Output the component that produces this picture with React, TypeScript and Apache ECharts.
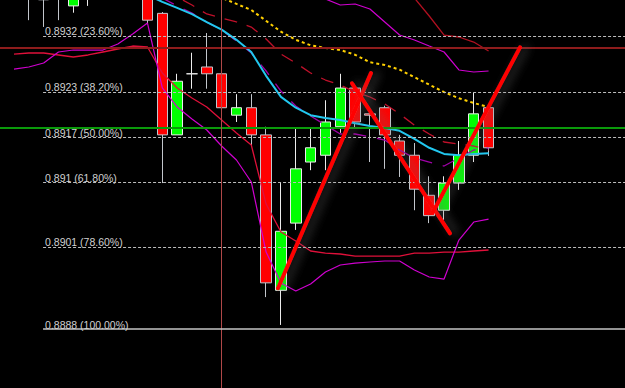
import React, { useEffect, useRef } from "react";
import * as echarts from "echarts";

// ---- data (prices) ----
// candles: [open, close, low, high], index = bar number
const candles: number[][] = [
  [0.8942, 0.89405, 0.89385, 0.8943],
  [0.8941, 0.8938, 0.8934, 0.8942],
  [0.89385, 0.8937, 0.8933, 0.89395],
  [0.89385, 0.89374, 0.8934, 0.89392],
  [0.89361, 0.8939, 0.89351, 0.894],
  [0.8939, 0.8941, 0.89361, 0.8942],
  [0.8941, 0.89425, 0.8938, 0.8944],
  [0.89425, 0.89445, 0.894, 0.8945],
  [0.89445, 0.89415, 0.89385, 0.8945],
  [0.894, 0.8934, 0.89334, 0.89415],
  [0.8935, 0.89171, 0.891, 0.89352],
  [0.89171, 0.8925, 0.89171, 0.89261],
  [0.89261, 0.89261, 0.89239, 0.89292],
  [0.89271, 0.89261, 0.89239, 0.89321],
  [0.89261, 0.89211, 0.89209, 0.8927],
  [0.892, 0.89211, 0.8919, 0.89231],
  [0.89211, 0.89171, 0.89155, 0.89231],
  [0.89171, 0.88953, 0.88932, 0.89183],
  [0.88942, 0.89029, 0.88891, 0.891],
  [0.89041, 0.89121, 0.89031, 0.8918],
  [0.89131, 0.89152, 0.89119, 0.8918],
  [0.89141, 0.8919, 0.89119, 0.89222],
  [0.89183, 0.8924, 0.89174, 0.89261],
  [0.8924, 0.8919, 0.89181, 0.89246],
  [0.89202, 0.892, 0.89131, 0.89211],
  [0.89211, 0.89171, 0.89121, 0.89214],
  [0.89162, 0.89141, 0.89109, 0.89171],
  [0.89141, 0.89091, 0.8906, 0.89159],
  [0.89082, 0.89052, 0.89041, 0.8911],
  [0.8906, 0.891, 0.89046, 0.8911],
  [0.891, 0.89141, 0.8909, 0.89162],
  [0.89141, 0.89202, 0.89131, 0.89233],
  [0.89211, 0.89152, 0.8914, 0.89212],
];

const N = null;
const cyanMA = [N, N, N, N, N, N, N, N, N, 0.89377, 0.89367, 0.89358, 0.89349, 0.89337, 0.89326, 0.89311, 0.89293, 0.89258, 0.89227, 0.89211, 0.892, 0.89196, 0.89193, 0.89188, 0.89184, 0.89181, 0.89177, 0.89165, 0.89152, 0.89143, 0.89141, 0.89143, 0.89144];
const yellowMA = [N, N, N, N, N, N, N, N, N, N, N, N, N, 0.89381, 0.89373, 0.89364, 0.89355, 0.89339, 0.89323, 0.89311, 0.89303, 0.89299, 0.89296, 0.89289, 0.89278, 0.89274, 0.89267, 0.89256, 0.89245, 0.89234, 0.89225, 0.89218, 0.89212];
const magentaLower = [0.89268, 0.89271, 0.892769, 0.892931, 0.89296, 0.89296, 0.89296, 0.893049, 0.893196, 0.893358, 0.892401, 0.892121, 0.891944, 0.891782, 0.891546, 0.89134, 0.891016, 0.889984, 0.889528, 0.88941, 0.889513, 0.88969, 0.889793, 0.889822, 0.889837, 0.889852, 0.889852, 0.889719, 0.889616, 0.889586, 0.890161, 0.890426, 0.89047];
const magentaMid = [N, N, N, N, N, N, N, N, N, N, 0.893726, 0.893609, 0.893505, 0.893372, 0.893255, 0.893093, 0.892916, 0.892651, 0.892356, 0.892135, 0.891988, 0.891855, 0.891723, 0.891723, 0.891679, 0.891634, 0.891487, 0.891369, 0.89131, 0.891251, 0.891369, 0.891487, 0.891516];
const magentaUpper = [N, N, N, N, N, N, N, N, N, N, N, N, N, N, N, N, N, N, N, 0.894286, 0.893992, 0.893712, 0.893623, 0.893638, 0.893564, 0.893373, 0.893181, 0.893108, 0.893019, 0.892931, 0.892666, 0.892636, 0.892651];
const redLower = [0.892901, 0.892916, 0.892916, 0.892887, 0.892857, 0.892887, 0.892931, 0.892975, 0.893019, 0.893005, 0.892622, 0.892401, 0.892253, 0.892121, 0.891929, 0.891737, 0.891561, 0.890691, 0.890279, 0.890146, 0.889999, 0.889969, 0.889955, 0.889925, 0.889925, 0.889925, 0.889925, 0.889969, 0.889969, 0.889984, 0.889984, 0.889999, 0.890014];
const redMid = [N, N, N, N, N, N, N, N, N, N, 0.893844, 0.893741, 0.893623, 0.893491, 0.893432, 0.893373, 0.893299, 0.893122, 0.892901, 0.892769, 0.892622, 0.892518, 0.892445, 0.892342, 0.892268, 0.892165, 0.892018, 0.891855, 0.891723, 0.891605, 0.891575, 0.891546, 0.891487];
const redUpper = [N, N, N, N, N, N, N, N, N, N, N, N, N, N, N, N, N, N, N, N, N, N, N, N, N, 0.89436, 0.894065, 0.893726, 0.893461, 0.893181, 0.893152, 0.893078, 0.892946];

// Fibonacci levels
const fibLevels = [0.893167, 0.892342, 0.891675, 0.891008, 0.890059, 0.88885];
const fibLabels = ["0.8932 (23.60%)", "0.8923 (38.20%)", "0.8917 (50.00%)", "0.891 (61.80%)", "0.8901 (78.60%)", "0.8888 (100.00%)"];
const FIB_START = 1.96;

// horizontal / vertical lines
const redLevel = 0.893;
const greenLevel = 0.89181;
const vLineBar = 14;

// trend lines: [bar, price]
const trendUp1 = [[17.8, 0.88945], [24.07, 0.89262]];
const trendDown = [[22.79, 0.89247], [29.4, 0.89026]];
const trendUp2 = [[28.25, 0.89057], [34.12, 0.893]];

// axis ranges
const X_MIN = -0.944;
const X_MAX = 41.2;
const Y_MIN = 0.887981;
const Y_MAX = 0.893697;

const pairs = (arr: (number | null)[]) => arr.map((v, i) => [i, v == null ? "-" : v]);

export default function App() {
  const ref = useRef<HTMLDivElement>(null);
  useEffect(() => {
    if (!ref.current) return;
    const chart = echarts.init(ref.current, undefined, { renderer: "svg" });
    const lineS = (data: any[], color: string, width: number, type: any = "solid", z = 3) => ({
      type: "line",
      data,
      symbol: "none",
      silent: true,
      connectNulls: false,
      z,
      lineStyle: { color, width, type },
    });
    const trend = (data: number[][]) => ({
      type: "line",
      data,
      symbol: "none",
      silent: true,
      z: 10,
      lineStyle: {
        color: "#ff0000",
        width: 4,
        cap: "round",
        shadowColor: "rgba(110,110,110,0.55)",
        shadowBlur: 10,
        shadowOffsetX: 6,
      },
    });
    const option: any = {
      animation: false,
      backgroundColor: "#000000",
      grid: { left: 0, right: 0, top: 0, bottom: 0, containLabel: false },
      xAxis: { type: "value", min: X_MIN, max: X_MAX, show: false },
      yAxis: { type: "value", min: Y_MIN, max: Y_MAX, show: false, scale: true },
      series: [
        {
          type: "candlestick",
          data: candles.map((c, i) => [i, ...c]),
          barWidth: 11,
          silent: true,
          z: 2,
          itemStyle: {
            color: "#00ff00",
            color0: "#ff0000",
            borderColor: "#ececec",
            borderColor0: "#c2c6cc",
            borderWidth: 1,
          },
        },
        lineS(pairs(redLower), "#e0103a", 1.3),
        lineS(pairs(redUpper), "#b01020", 1.3),
        lineS(pairs(redMid), "#c0102a", 1.3, [13, 10]),
        lineS(pairs(magentaLower), "#d000d0", 1.2),
        lineS(pairs(magentaUpper), "#d000d0", 1.2),
        lineS(pairs(magentaMid), "#a000a8", 1.3, [13, 11]),
        lineS(pairs(cyanMA), "#22c8f0", 2),
        lineS(pairs(yellowMA), "#ffd000", 2, [3, 3]),
        {
          type: "line",
          data: [],
          silent: true,
          markLine: {
            silent: true,
            symbol: ["none", "none"],
            animation: false,
            data: [
              [
                { xAxis: X_MIN, yAxis: redLevel, lineStyle: { color: "#8e1c1c", width: 2, type: "solid" }, label: { show: false } },
                { xAxis: X_MAX, yAxis: redLevel },
              ],
              [
                { xAxis: X_MIN, yAxis: greenLevel, lineStyle: { color: "#0a9a0a", width: 2, type: "solid" }, label: { show: false } },
                { xAxis: X_MAX, yAxis: greenLevel },
              ],
              [
                { xAxis: vLineBar, yAxis: Y_MIN, lineStyle: { color: "#b04848", width: 1, type: "solid" }, label: { show: false } },
                { xAxis: vLineBar, yAxis: Y_MAX },
              ],
              ...fibLevels.map((lv, k) => [
                {
                  coord: [FIB_START, lv],
                  lineStyle: {
                    color: k === fibLevels.length - 1 ? "#c4c4c4" : "#bcbcbc",
                    width: k === fibLevels.length - 1 ? 1.6 : 1.2,
                    type: k === fibLevels.length - 1 ? "solid" : [3, 2],
                  },
                  label: {
                    show: true,
                    position: "insideStartTop",
                    formatter: fibLabels[k],
                    color: "#d0d0d0",
                    fontSize: 10.5,
                    fontFamily: "Liberation Sans, Arial, sans-serif",
                    distance: [2, -1],
                    padding: 0,
                  },
                },
                { coord: [X_MAX, lv] },
              ]),
            ],
          },
        },
        trend(trendUp1),
        trend(trendDown),
        trend(trendUp2),
      ],
    };
    chart.setOption(option);
    return () => chart.dispose();
  }, []);
  return (
    <div
      ref={ref}
      style={{ position: "fixed", left: 0, top: 0, width: 625, height: 388, background: "#000" }}
    />
  );
}
